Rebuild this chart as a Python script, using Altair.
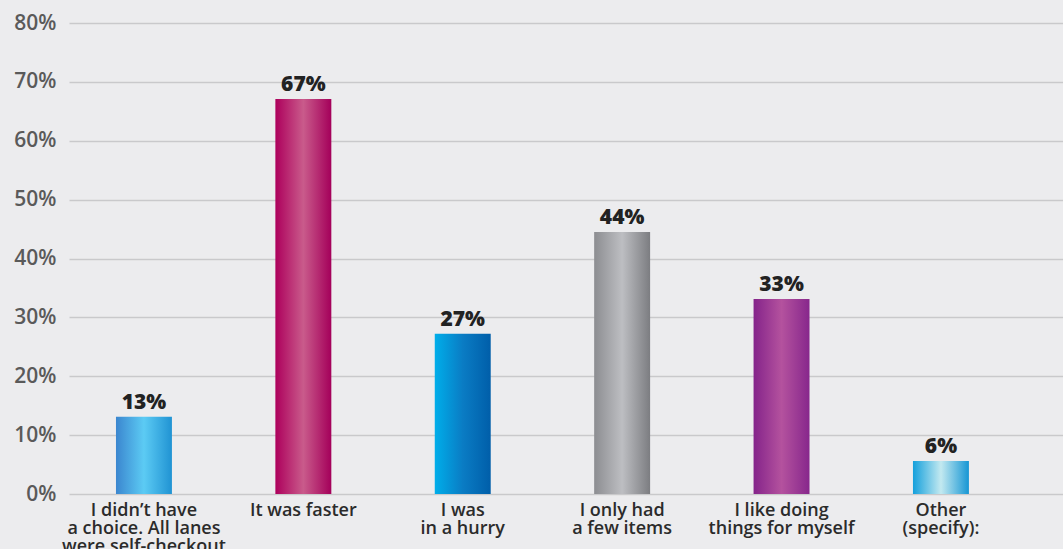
import altair as alt
import pandas as pd

categories = [
    "I didn\u2019t have\na choice. All lanes\nwere self-checkout",
    "It was faster",
    "I was\nin a hurry",
    "I only had\na few items",
    "I like doing\nthings for myself",
    "Other\n(specify):",
]
values = [13.1, 67.1, 27.2, 44.5, 33.1, 5.6]
labels = ["13%", "67%", "27%", "44%", "33%", "6%"]
gradients = [
    ["#3b86cf", "#5ccbf4", "#2093d3"],
    ["#ad005c", "#c95b8b", "#a4005a"],
    ["#00aeea", "#0a7cc4", "#005ea9"],
    ["#8c8d91", "#bdbec2", "#7c7d81"],
    ["#84238a", "#b4529e", "#87278c"],
    ["#14a0dc", "#c3e9f0", "#1696d4"],
]

df = pd.DataFrame({"cat": categories, "val": values, "lab": labels})

x_enc = alt.X(
    "cat:N",
    sort=categories,
    scale=alt.Scale(paddingInner=0.649, paddingOuter=0.4425, align=0.333),
    axis=alt.Axis(
        title=None,
        labelAngle=0,
        labelExpr="split(datum.label, '\\n')",
        labelFont="Open Sans",
        labelFontSize=18,
        labelFontWeight=600,
        labelColor="#2b2b2b",
        labelPadding=7,
        labelLineHeight=18,
        labelBaseline="top",
        ticks=False,
        domain=False,
        grid=False,
        labelLimit=300,
    ),
)
y_enc = alt.Y(
    "val:Q",
    scale=alt.Scale(domain=[0, 80], nice=False),
    axis=alt.Axis(
        title=None,
        values=[0, 10, 20, 30, 40, 50, 60, 70, 80],
        labelExpr="datum.value + '%'",
        labelFont="Open Sans",
        labelFontSize=21,
        labelFontWeight=600,
        labelColor="#5a5a5a",
        labelPadding=13,
        ticks=False,
        domain=False,
        grid=True,
        gridColor="#c9c9cb",
        gridWidth=1.5,
    ),
)

layers = []
for i, cat in enumerate(categories):
    g = gradients[i]
    layers.append(
        alt.Chart(df)
        .transform_filter(alt.datum.cat == cat)
        .mark_bar(
            color=alt.Gradient(
                gradient="linear",
                x1=0, x2=1, y1=0, y2=0,
                stops=[
                    alt.GradientStop(color=g[0], offset=0),
                    alt.GradientStop(color=g[1], offset=0.5),
                    alt.GradientStop(color=g[2], offset=1),
                ],
            )
        )
        .encode(x=x_enc, y=y_enc)
    )

text = (
    alt.Chart(df)
    .mark_text(
        font="Open Sans",
        fontSize=21,
        fontWeight=800,
        color="#222222",
        baseline="bottom",
        dy=-4,
    )
    .encode(x=alt.X("cat:N", sort=categories), y=alt.Y("val:Q"), text="lab:N")
)

chart = (
    alt.layer(*layers, text)
    .properties(
        width=994,
        height=471,
        autosize=alt.AutoSizeParams(type="none"),
        padding={"left": 69, "top": 23, "right": 0, "bottom": 55},
        background="#ececee",
    )
    .configure_view(strokeWidth=0)
)

chart.save("out.html", embed_options={"renderer": "svg", "actions": False})
